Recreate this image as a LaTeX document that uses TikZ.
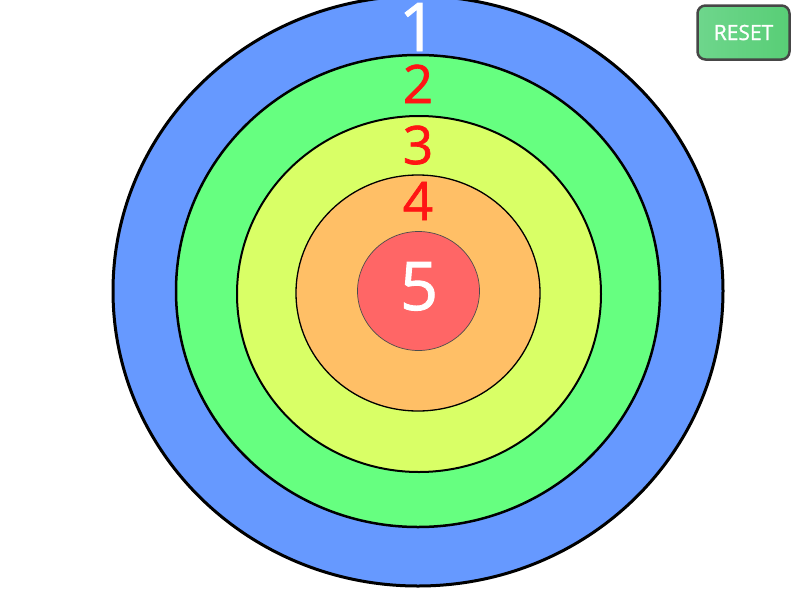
\documentclass[tikz,border=0pt]{standalone}
\usepackage{fontspec}
\setmainfont{Open Sans}
\newfontfamily\numfont{Open Sans}[FakeBold=1.3]

\definecolor{ringblue}{RGB}{102,153,255}
\definecolor{ringgreen}{RGB}{102,255,128}
\definecolor{ringyellow}{RGB}{217,255,102}
\definecolor{ringorange}{RGB}{255,191,102}
\definecolor{ringred}{RGB}{255,102,102}
\definecolor{numred}{RGB}{255,20,20}
\definecolor{btnleft}{RGB}{110,214,140}
\definecolor{btnright}{RGB}{88,206,118}

\tikzset{
  bignum/.style={anchor=base, inner sep=0pt, font=\numfont\fontsize{67}{67}\selectfont, text=white},
  smallnum/.style={anchor=base, inner sep=0pt, font=\numfont\fontsize{53}{53}\selectfont, text=numred},
  btn/.style={draw=gray!55!black, line width=2.5pt, rounded corners=8pt,
    left color=btnleft, right color=btnright, text=white,
    minimum width=92pt, minimum height=54pt, font=\numfont\fontsize{21}{21}\selectfont}
}

\begin{document}
\begin{tikzpicture}[x=1pt,y=-1pt]
\useasboundingbox (0,0) rectangle (801,600);

% target rings
\draw[line width=3pt, fill=ringblue] (418,291) ellipse [x radius=305, y radius=295];
\draw[line width=2.5pt, fill=ringgreen] (418,291) ellipse [x radius=242, y radius=236];
\draw[line width=2pt, fill=ringyellow] (419,294) ellipse [x radius=182, y radius=178];
\draw[line width=1.3pt, fill=ringorange] (418,293) ellipse [x radius=122, y radius=118];
\draw[line width=0.7pt, draw=black!70, fill=ringred] (418.5,291) ellipse [x radius=61, y radius=59.5];

\node [bignum] (one) at (418,51) {1};
\node [smallnum] (two) at (418,103) {2};
\node [smallnum] (three) at (418,164) {3};
\node [smallnum] (four) at (418,220) {4};
\node [bignum] (five) at (419,310) {5};

\node [btn] (reset) at (743.5,32.5) {RESET};

\end{tikzpicture}
\end{document}
